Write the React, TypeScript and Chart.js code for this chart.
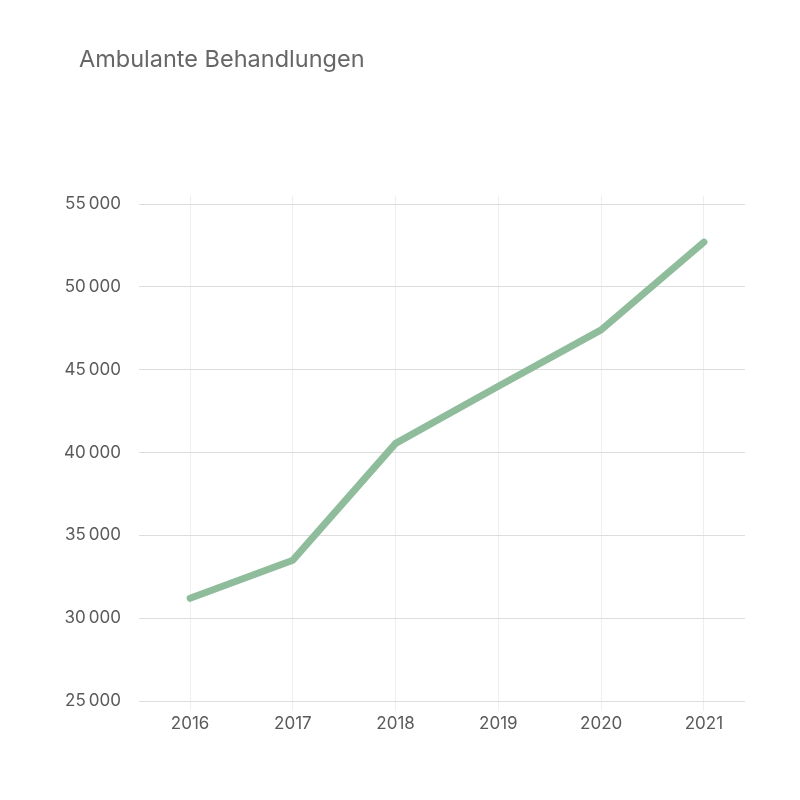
import React, { useEffect, useRef } from "react";
import { Chart, registerables } from "chart.js";

Chart.register(...registerables);

const TITLE = "Ambulante Behandlungen";
const YEARS = [2016, 2017, 2018, 2019, 2020, 2021];
const VALUES = [31200, 33500, 40550, 44000, 47400, 52700];
const Y_TICKS = [25000, 30000, 35000, 40000, 45000, 50000, 55000];

const FONT = "Inter, 'Noto Sans', sans-serif";

function fmt(v: number): string {
  const s = Math.round(v).toString();
  return s.replace(/\B(?=(\d{3})+(?!\d))/g, "\u202F");
}

const titlePlugin = {
  id: "customTitle",
  afterDraw(chart: any) {
    const ctx = chart.ctx;
    ctx.save();
    ctx.font = `23.5px ${FONT}`;
    ctx.fillStyle = "#666666";
    ctx.textAlign = "left";
    ctx.textBaseline = "alphabetic";
    ctx.fillText(TITLE, 79, 67);
    ctx.restore();
  },
};

export default function App() {
  const ref = useRef<HTMLCanvasElement | null>(null);

  useEffect(() => {
    if (!ref.current) return;
    const chart = new Chart(ref.current, {
      type: "line",
      data: {
        datasets: [
          {
            label: TITLE,
            data: YEARS.map((x, i) => ({ x, y: VALUES[i] })),
            borderColor: "rgb(143,188,155)",
            backgroundColor: "rgb(143,188,155)",
            borderWidth: 7,
            pointRadius: 0,
            pointHoverRadius: 0,
            borderCapStyle: "round",
            borderJoinStyle: "round",
            tension: 0,
            fill: false,
          },
        ],
      },
      options: {
        animation: false,
        responsive: false,
        maintainAspectRatio: false,
        layout: { padding: { left: 0, right: 55, top: 196, bottom: 0 } },
        plugins: {
          legend: { display: false },
          title: { display: false },
          tooltip: { enabled: false },
        },
        scales: {
          x: {
            type: "linear",
            min: 2015.6,
            max: 2021.4,
            afterBuildTicks: (axis: any) => {
              axis.ticks = YEARS.map((v) => ({ value: v }));
            },
            afterFit: (axis: any) => {
              axis.height = 99;
            },
            grid: {
              color: "#eeeeee",
              lineWidth: 1,
              drawTicks: true,
              tickLength: 10,
            },
            border: { display: false },
            ticks: {
              padding: 3,
              color: "#5a5a5a",
              font: { family: FONT, size: 17 },
              maxRotation: 0,
              callback: (v: any) => String(v),
            },
          },
          y: {
            type: "linear",
            min: 25000,
            max: 55483,
            afterBuildTicks: (axis: any) => {
              axis.ticks = Y_TICKS.map((v) => ({ value: v }));
            },
            afterFit: (axis: any) => {
              axis.width = 149;
            },
            grid: {
              color: "#dddddd",
              lineWidth: 1,
              drawTicks: true,
              tickLength: 10,
            },
            border: { display: false },
            ticks: {
              padding: 18,
              color: "#5a5a5a",
              font: { family: FONT, size: 17 },
              callback: (v: any) => fmt(Number(v)),
            },
          },
        },
      },
      plugins: [titlePlugin],
    } as any);
    return () => chart.destroy();
  }, []);

  return (
    <div style={{ position: "fixed", left: 0, top: 0, width: 800, height: 800, background: "#ffffff" }}>
      <canvas ref={ref} width={800} height={800} style={{ width: 800, height: 800, display: "block" }} />
    </div>
  );
}
